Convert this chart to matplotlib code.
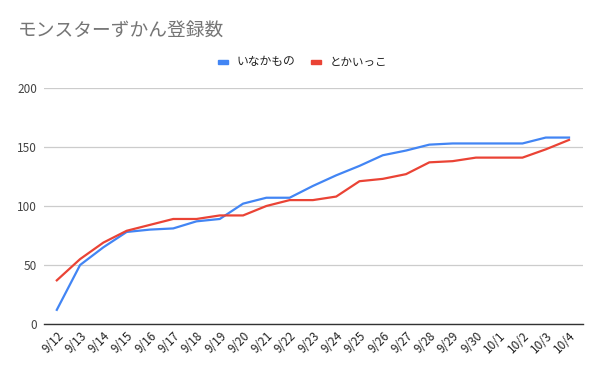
import matplotlib
matplotlib.use("Agg")
import matplotlib.pyplot as plt
from matplotlib.patches import Rectangle

plt.rcParams['font.family'] = ['Noto Sans CJK JP', 'DejaVu Sans']

dates = ['9/12', '9/13', '9/14', '9/15', '9/16', '9/17', '9/18', '9/19', '9/20',
         '9/21', '9/22', '9/23', '9/24', '9/25', '9/26', '9/27', '9/28', '9/29',
         '9/30', '10/1', '10/2', '10/3', '10/4']
inakamono = [12, 50, 65, 78, 80, 81, 87, 89, 102, 107, 107, 117, 126, 134, 143,
             147, 152, 153, 153, 153, 153, 158, 158]
tokaikko = [37, 55, 69, 79, 84, 89, 89, 92, 92, 100, 105, 105, 108, 121, 123,
            127, 137, 138, 141, 141, 141, 148, 156]

W, H = 600, 371
fig = plt.figure(figsize=(W / 100, H / 100), dpi=100)
ax = fig.add_axes([44 / W, (H - 324) / H, (583 - 44) / W, (324 - 88) / H])

x = list(range(len(dates)))
ax.plot(x, inakamono, color='#4285F4', linewidth=1.6, solid_joinstyle='round')
ax.plot(x, tokaikko, color='#EA4335', linewidth=1.6, solid_joinstyle='round')

ax.set_xlim(-0.55, len(dates) - 1 + 0.6)
ax.set_ylim(0, 200)
ax.set_yticks([0, 50, 100, 150, 200])
ax.yaxis.grid(True, color='#cccccc', linewidth=0.9)
ax.set_axisbelow(True)
for s in ['top', 'right', 'left']:
    ax.spines[s].set_visible(False)
ax.spines['bottom'].set_color('#333333')
ax.spines['bottom'].set_linewidth(1.0)
ax.tick_params(axis='y', length=0, pad=5, labelsize=8.5, labelcolor='#444444')
ax.tick_params(axis='x', length=0, pad=4, labelsize=8.5, labelcolor='#222222')
ax.set_xticks(x)
ax.set_xticklabels(dates, rotation=45, ha='right', va='top', rotation_mode='anchor')

fig.text(18 / W, 1 - 31 / H, 'モンスターずかん登録数', fontsize=13.5, color='#757575',
         ha='left', va='center')

# legend
ly = 1 - 62 / H
fig.patches.append(Rectangle((218 / W, ly - 2 / H), 10 / W, 4 / H, color='#4285F4',
                             transform=fig.transFigure, figure=fig))
fig.text(237 / W, ly, 'いなかもの', fontsize=8.5, color='#222222', ha='left', va='center')
fig.patches.append(Rectangle((311 / W, ly - 2 / H), 10 / W, 4 / H, color='#EA4335',
                             transform=fig.transFigure, figure=fig))
fig.text(330 / W, ly, 'とかいっこ', fontsize=8.3, color='#222222', ha='left', va='center')

fig.savefig('out.png', dpi=100, facecolor='white')
